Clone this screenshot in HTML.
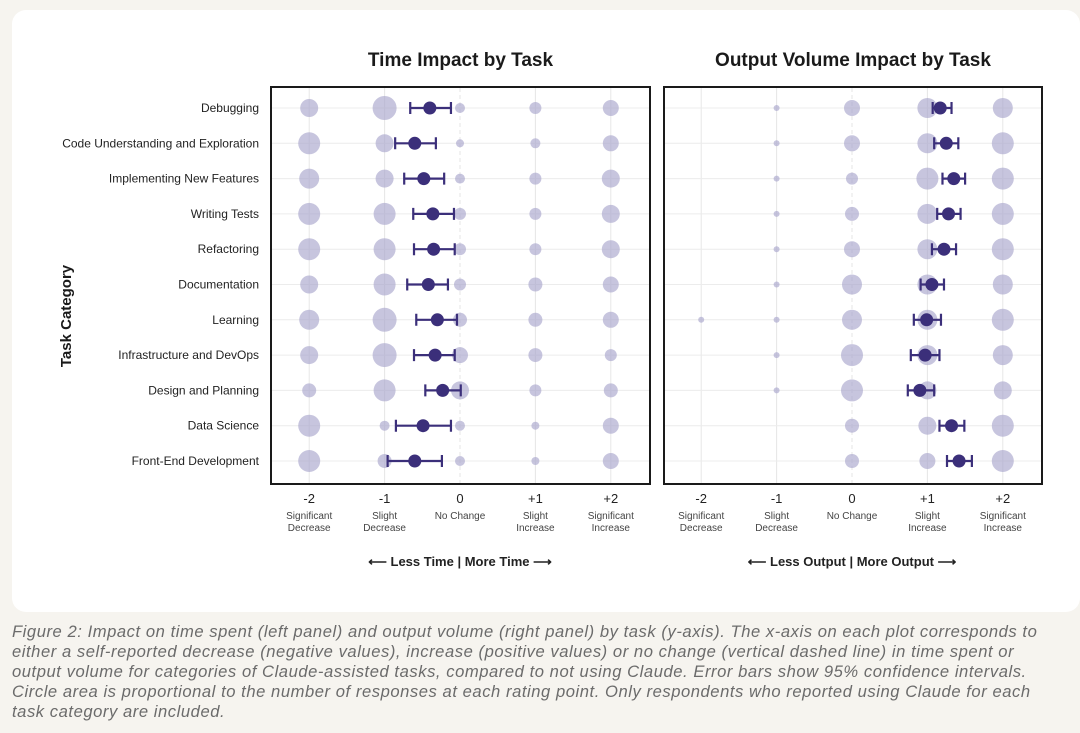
<!DOCTYPE html>
<html><head><meta charset="utf-8"><style>
body{margin:0;width:1080px;height:733px;background:#f6f4ef;font-family:"Liberation Sans",sans-serif;overflow:hidden;position:relative}
#card{position:absolute;left:12px;top:10px;width:1068px;height:602px;background:#fff;border-radius:14px}
#cap{position:absolute;left:12px;top:622px;width:1068px;font-style:italic;font-size:16.6px;letter-spacing:0.55px;line-height:20px;color:#6b6b6b;white-space:nowrap}
svg{position:absolute;left:0;top:0}
</style></head><body>
<div id="card"></div>
<svg id="chart" width="1080" height="612"></svg>
<div id="cap">Figure 2: Impact on time spent (left panel) and output volume (right panel) by task (y-axis). The x-axis on each plot corresponds to<br>either a self-reported decrease (negative values), increase (positive values) or no change (vertical dashed line) in time spent or<br>output volume for categories of Claude-assisted tasks, compared to not using Claude. Error bars show 95% confidence intervals.<br>Circle area is proportional to the number of responses at each rating point. Only respondents who reported using Claude for each<br>task category are included.</div>
<script>
const categories=["Debugging","Code Understanding and Exploration","Implementing New Features","Writing Tests","Refactoring","Documentation","Learning","Infrastructure and DevOps","Design and Planning","Data Science","Front-End Development"];
const ratingTicks=["-2","-1","0","+1","+2"];
const ratingLabels=[["Significant","Decrease"],["Slight","Decrease"],["No Change",""],["Slight","Increase"],["Significant","Increase"]];
const timeMean=[-0.4,-0.6,-0.48,-0.36,-0.35,-0.42,-0.3,-0.33,-0.23,-0.49,-0.6];
const timeLo=[-0.66,-0.86,-0.74,-0.62,-0.61,-0.7,-0.58,-0.61,-0.46,-0.85,-0.96];
const timeHi=[-0.12,-0.32,-0.21,-0.08,-0.07,-0.16,-0.04,-0.07,0.01,-0.12,-0.24];
const timeSizes=[[9,12,5,6,8],[11,9,4,5,8],[10,9,5,6,9],[11,11,6,6,9],[11,11,6,6,9],[9,11,6,7,8],[10,12,7,7,8],[9,12,8,7,6],[7,11,9,6,7],[11,5,5,4,8],[11,7,5,4,8]];
const outMean=[1.17,1.25,1.35,1.28,1.22,1.06,0.99,0.97,0.9,1.32,1.42];
const outLo=[1.07,1.09,1.2,1.13,1.06,0.91,0.82,0.78,0.74,1.16,1.26];
const outHi=[1.32,1.41,1.5,1.44,1.38,1.22,1.18,1.16,1.09,1.49,1.59];
const outSizes=[[0,3,8,10,10],[0,3,8,10,11],[0,3,6,11,11],[0,3,7,10,11],[0,3,8,10,11],[0,3,10,10,10],[3,3,10,10,11],[0,3,11,10,10],[0,3,11,9,9],[0,0,7,9,11],[0,0,7,8,11]];
const NS="http://www.w3.org/2000/svg";
const svg=document.getElementById('chart');
function mk(t,a,p){const e=document.createElementNS(NS,t);for(const k in a)e.setAttribute(k,a[k]);(p||svg).appendChild(e);return e;}
const yRow=i=>108+i*35.3;
function panel(x0,x1,zero,title,mean,lo,hi,sizes,arrowL,arrowR,nm){
  const g=mk('g',{});
  
  
  const unit=75.4;const xs=v=>zero+v*unit;
  for(let k=-2;k<=2;k++){const l=mk('line',{x1:xs(k),x2:xs(k),y1:88,y2:484,stroke:'#e6e6e6','stroke-width':1,'stroke-dasharray':k===0?'4,3':''},g);
    }
  categories.forEach((c,i)=>{const l=mk('line',{x1:x0,x2:x1,y1:yRow(i),y2:yRow(i),stroke:'#ececec','stroke-width':1},g);
    });
  categories.forEach((c,i)=>{sizes[i].forEach((r,k)=>{if(r>0){const b=mk('circle',{cx:xs(k-2),cy:yRow(i),r:r,fill:'#a9a6cc','fill-opacity':0.65},g);
    }});});
  categories.forEach((c,i)=>{const y=yRow(i);
    const e=mk('path',{d:`M${xs(lo[i])},${y}H${xs(hi[i])}M${xs(lo[i])},${y-6}V${y+6}M${xs(hi[i])},${y-6}V${y+6}`,stroke:'#3b2f7a','stroke-width':2.2,fill:'none'},g);
    
    const m=mk('circle',{cx:xs(mean[i]),cy:y,r:6.5,fill:'#3b2f7a'},g);
    });
  const fr=mk('rect',{x:x0,y:87,width:x1-x0,height:397,fill:'none',stroke:'#1a1a1a','stroke-width':2},g);
  
  const t=mk('text',{x:(x0+x1)/2,y:66,'text-anchor':'middle','font-size':19,'font-weight':'bold',fill:'#1a1a1a'},g);t.textContent=title;
  
  ratingTicks.forEach((tk,k)=>{const x=xs(k-2);
    const a=mk('text',{x:x,y:503,'text-anchor':'middle','font-size':13,fill:'#222'},g);a.textContent=tk;
    
    ratingLabels[k].forEach((s,j)=>{if(!s)return;const b=mk('text',{x:x,y:519+j*12,'text-anchor':'middle','font-size':10,fill:'#444'},g);b.textContent=s;
      });});
  const ar=mk('text',{x:zero,y:566,'text-anchor':'middle','font-size':13,'font-weight':'bold',fill:'#222'},g);
  ar.textContent='\u27F5  '+arrowL+'  |  '+arrowR+'  \u27F6';ar.setAttribute('xml:space','preserve');
  
}
panel(271,650,460,'Time Impact by Task',timeMean,timeLo,timeHi,timeSizes,'Less Time','More Time','time');
panel(664,1042,852,'Output Volume Impact by Task',outMean,outLo,outHi,outSizes,'Less Output','More Output','output');
categories.forEach((c,i)=>{const t=mk('text',{x:259,y:yRow(i)+4,'text-anchor':'end','font-size':12,fill:'#222'});t.textContent=c;
  });
const yt=mk('text',{x:0,y:0,transform:'translate(71,316) rotate(-90)','text-anchor':'middle','font-size':15,'font-weight':'bold',fill:'#1a1a1a'});
yt.textContent='Task Category';


</script>
</body></html>
